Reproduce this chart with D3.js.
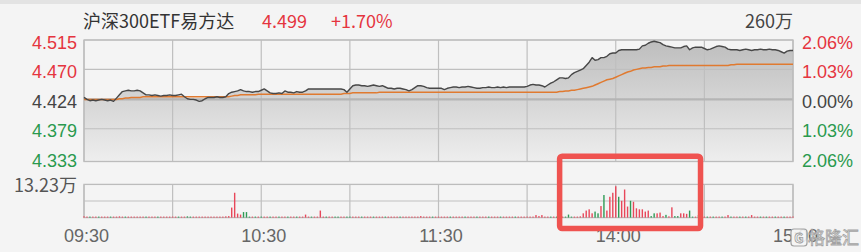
<!DOCTYPE html>
<html><head><meta charset="utf-8">
<script src="https://cdn.jsdelivr.net/npm/d3@7"></script>
<style>
html,body{margin:0;padding:0;background:#f4f4f4;}
svg{display:block;font-family:"Noto Sans CJK SC","Microsoft YaHei",sans-serif;}
</style></head>
<body>
<svg id="chart" width="861" height="252"></svg>
<script>
// ---------- data ----------
const title = "沪深300ETF易方达";
const lastPrice = "4.499";
const lastChange = "+1.70%";
const maxVolLabel = "260万";
const volTopLabel = "13.23万";
const prevClose = 4.424;
const priceTicks = [4.515, 4.470, 4.424, 4.379, 4.333];
const pctTicks = ["2.06%", "1.03%", "0.00%", "1.03%", "2.06%"];
const timeTickIdx = [0, 60, 120, 180, 240];
const timeTickLabels = ["09:30", "10:30", "11:30", "14:00", "15:00"];
const volMax = 13.23; // 万
const highlightIdx = [161, 208.7];

// minute prices, 09:30 .. 11:30, 13:01 .. 15:00
const price = [
4.427,4.424,4.422,4.423,4.422,4.423,4.424,4.423,4.422,4.423,
4.421,4.426,4.431,4.436,4.437,4.438,4.437,4.437,4.438,4.437,
4.434,4.431,4.431,4.430,4.431,4.430,4.429,4.430,4.430,4.431,
4.430,4.430,4.431,4.432,4.428,4.425,4.424,4.424,4.423,4.421,
4.422,4.425,4.427,4.427,4.427,4.428,4.427,4.427,4.428,4.433,
4.435,4.436,4.437,4.439,4.437,4.436,4.436,4.435,4.436,4.436,
4.438,4.440,4.437,4.434,4.433,4.433,4.434,4.433,4.437,4.435,
4.435,4.434,4.436,4.435,4.435,4.437,4.440,4.440,4.440,4.440,
4.440,4.440,4.440,4.440,4.440,4.440,4.440,4.440,4.439,4.435,
4.440,4.445,4.446,4.446,4.445,4.445,4.444,4.445,4.446,4.445,
4.444,4.445,4.443,4.441,4.441,4.440,4.441,4.441,4.440,4.439,
4.437,4.439,4.442,4.445,4.445,4.444,4.442,4.441,4.441,4.441,
4.441,
4.441,4.439,4.441,4.442,4.443,4.443,4.442,4.443,4.443,4.444,
4.443,4.442,4.441,4.441,4.442,4.442,4.443,4.442,4.442,4.443,
4.442,4.443,4.442,4.443,4.443,4.443,4.443,4.443,4.443,4.444,
4.446,4.447,4.446,4.446,4.445,4.443,4.446,4.449,4.451,4.454,
4.457,4.457,4.456,4.457,4.462,4.465,4.467,4.469,4.471,4.476,
4.481,4.488,4.484,4.485,4.488,4.488,4.490,4.494,4.495,4.495,
4.499,4.500,4.500,4.500,4.500,4.500,4.500,4.501,4.506,4.507,
4.510,4.512,4.513,4.512,4.511,4.508,4.506,4.505,4.504,4.503,
4.503,4.503,4.505,4.506,4.500,4.503,4.504,4.504,4.504,4.502,
4.500,4.501,4.503,4.505,4.506,4.505,4.504,4.501,4.500,4.500,
4.500,4.499,4.500,4.501,4.500,4.499,4.500,4.500,4.501,4.500,
4.500,4.501,4.500,4.500,4.499,4.497,4.495,4.498,4.499,4.499
];

// minute average price
const avg = [
4.424,4.424,4.424,4.424,4.424,4.424,4.424,4.424,4.424,4.424,
4.424,4.424,4.425,4.425,4.426,4.426,4.427,4.427,4.427,4.427,
4.428,4.428,4.428,4.428,4.428,4.428,4.428,4.428,4.428,4.428,
4.428,4.428,4.428,4.428,4.428,4.428,4.428,4.428,4.428,4.428,
4.428,4.428,4.428,4.428,4.428,4.428,4.428,4.428,4.428,4.428,
4.429,4.430,4.430,4.431,4.431,4.431,4.431,4.431,4.431,4.432,
4.432,4.432,4.432,4.432,4.432,4.432,4.432,4.432,4.432,4.432,
4.432,4.432,4.432,4.432,4.432,4.432,4.432,4.432,4.432,4.432,
4.432,4.432,4.432,4.432,4.432,4.432,4.432,4.432,4.433,4.433,
4.433,4.434,4.434,4.434,4.434,4.434,4.434,4.434,4.434,4.434,
4.435,4.435,4.435,4.435,4.435,4.435,4.435,4.435,4.435,4.435,
4.435,4.435,4.435,4.435,4.435,4.435,4.435,4.435,4.435,4.435,
4.435,
4.435,4.435,4.435,4.435,4.435,4.435,4.435,4.435,4.435,4.435,
4.435,4.435,4.435,4.435,4.435,4.435,4.435,4.435,4.435,4.435,
4.435,4.435,4.435,4.435,4.435,4.435,4.435,4.435,4.435,4.435,
4.435,4.435,4.435,4.435,4.435,4.435,4.435,4.435,4.435,4.435,
4.436,4.436,4.437,4.437,4.438,4.438,4.439,4.440,4.441,4.442,
4.443,4.444,4.446,4.448,4.450,4.452,4.454,4.455,4.456,4.458,
4.460,4.462,4.464,4.466,4.467,4.469,4.470,4.471,4.472,4.472,
4.473,4.473,4.474,4.474,4.474,4.475,4.475,4.476,4.476,4.476,
4.476,4.476,4.476,4.476,4.476,4.476,4.476,4.476,4.476,4.476,
4.476,4.476,4.476,4.476,4.476,4.476,4.476,4.476,4.477,4.477,
4.478,4.478,4.478,4.478,4.478,4.478,4.478,4.478,4.478,4.478,
4.478,4.478,4.478,4.478,4.478,4.478,4.478,4.478,4.478,4.478
];

// minute volume in 万 (sign: + up/red, - down/green)
const vol = [
0.5,0.4,-0.4,0.4,0.4,-0.4,0.4,0.4,0.4,-0.4,
0.4,0.4,0.5,0.4,-0.4,0.4,0.4,0.4,0.4,0.4,
0.4,-0.4,0.4,0.4,0.4,-0.4,0.4,0.4,0.4,0.4,
0.4,0.4,-0.4,0.4,0.4,-0.5,-0.4,0.4,0.4,0.4,
0.4,0.4,0.4,0.4,0.4,0.4,0.4,0.4,0.5,0.6,
4.0,9.9,1.6,1.2,-2.2,-2.2,-0.4,0.4,-0.4,0.4,
-0.4,0.4,0.4,-0.4,0.4,0.4,-0.4,0.4,0.4,-0.4,
0.4,0.4,-0.4,0.4,0.4,1.2,0.4,-0.4,0.4,0.4,
2.8,0.4,-0.4,0.4,0.4,-0.4,-0.4,0.4,0.4,-0.4,
-0.4,0.4,0.4,0.4,-0.4,0.4,0.4,0.4,-0.4,0.4,
0.4,0.4,-0.4,0.4,0.4,0.4,0.4,-0.4,0.4,0.4,
0.4,0.4,0.4,0.4,0.6,0.4,0.4,0.4,-0.4,0.4,
0.4,0.4,0.4,0.4,-0.4,0.4,0.4,0.4,0.4,-0.4,
0.4,0.4,0.4,-0.4,0.4,0.4,0.4,-0.4,0.4,0.4,
0.4,-0.4,0.4,0.4,0.4,0.4,-0.4,0.4,0.4,0.4,
0.4,0.4,0.4,1.0,0.6,1.0,0.4,0.4,-0.4,0.4,
-0.4,0.4,0.4,-0.4,-1.2,-0.4,0.4,0.4,0.5,1.7,
2.8,3.3,1.7,-2.4,-1.7,4.6,-9.0,2.8,8.3,9.9,
12.5,-8.3,6.7,11.2,4.4,-6.7,6.3,3.7,3.3,3.3,
2.4,2.8,-0.6,-1.7,1.7,2.0,0.6,-1.1,0.5,4.1,
-0.6,-0.6,1.7,1.7,1.5,-2.8,-0.4,0.4,-1.0,-0.4,
0.4,-0.4,0.4,-0.4,0.4,0.4,-0.4,0.4,1.0,-0.4,
0.4,0.4,-0.4,0.4,-0.4,0.4,1.0,0.4,0.4,-0.4,
0.4,-0.4,0.4,0.4,-0.4,0.4,0.4,-0.4,0.4,0.4,0.4
];

// ---------- layout ----------
const L = 84, R = 793;
const pTop = 40, pBot = 158.8, pFrameBot = 161.5;
const vTop = 184.4, vBot = 217.6;
const RED = "#e5353f", GREEN = "#2a9a4e", DARK = "#444";
const BAR_RED = "#e8475a", BAR_GREEN = "#2f9a55";

const svg = d3.select("#chart");
const x = d3.scaleLinear().domain([0, 240]).range([L, R]);
const y = d3.scaleLinear().domain([4.333, 4.515]).range([pBot, pTop]);
const yv = d3.scaleLinear().domain([0, volMax]).range([vBot, vTop]);

// background + top band
svg.append("rect").attr("width", 861).attr("height", 252).attr("fill", "#f4f4f4");
svg.append("rect").attr("width", 861).attr("height", 4).attr("fill", "#e3e3e3");

// gradient for area
const defs = svg.append("defs");
const grad = defs.append("linearGradient").attr("id", "ag")
  .attr("gradientUnits", "userSpaceOnUse").attr("x1", 0).attr("x2", 0)
  .attr("y1", pTop).attr("y2", pFrameBot);
grad.append("stop").attr("offset", 0).attr("stop-color", "#bdbdbd");
grad.append("stop").attr("offset", 1).attr("stop-color", "#eeeeee");

// area under price
svg.append("path").datum(price)
  .attr("fill", "url(#ag)")
  .attr("d", d3.area().x((d, i) => x(i)).y0(pFrameBot).y1(d => y(d)));

// grid - price panel
const gridColor = "#bfbfbf";
const vGrid = d3.range(0, 241, 30);
svg.append("g").selectAll("line").data(vGrid).join("line")
  .attr("x1", d => x(d)).attr("x2", d => x(d))
  .attr("y1", pTop).attr("y2", pFrameBot)
  .attr("stroke", gridColor).attr("stroke-width", 1.2);
svg.append("g").selectAll("line").data(priceTicks.filter(p => p !== 4.333)).join("line")
  .attr("x1", L).attr("x2", R)
  .attr("y1", d => y(d)).attr("y2", d => y(d))
  .attr("stroke", d => d === prevClose ? "#b5b5b5" : gridColor)
  .attr("stroke-width", d => d === prevClose ? 2.2 : 1.2);
svg.append("rect").attr("x", L).attr("y", pTop).attr("width", R - L).attr("height", pFrameBot - pTop)
  .attr("fill", "none").attr("stroke", "#bcbcbc").attr("stroke-width", 1.3);

// avg line
svg.append("path").datum(avg)
  .attr("fill", "none").attr("stroke", "#e07a30").attr("stroke-width", 1.5)
  .attr("d", d3.line().x((d, i) => x(i)).y(d => y(d)));
// price line
svg.append("path").datum(price)
  .attr("fill", "none").attr("stroke", "#474747").attr("stroke-width", 1.4)
  .attr("stroke-linejoin", "round")
  .attr("d", d3.line().x((d, i) => x(i)).y(d => y(d)));

// volume panel grid
svg.append("g").selectAll("line").data(vGrid).join("line")
  .attr("x1", d => x(d)).attr("x2", d => x(d))
  .attr("y1", vTop).attr("y2", vBot)
  .attr("stroke", gridColor).attr("stroke-width", 1.2);
svg.append("line").attr("x1", L).attr("x2", R)
  .attr("y1", yv(volMax / 2)).attr("y2", yv(volMax / 2))
  .attr("stroke", gridColor).attr("stroke-width", 1.2);
svg.append("rect").attr("x", L).attr("y", vTop).attr("width", R - L).attr("height", vBot - vTop)
  .attr("fill", "none").attr("stroke", "#bcbcbc").attr("stroke-width", 1.3);

// volume bars
svg.append("g").selectAll("rect").data(vol).join("rect")
  .attr("x", (d, i) => x(i) - 0.7).attr("width", 1.4)
  .attr("y", d => yv(Math.abs(d))).attr("height", d => vBot - yv(Math.abs(d)))
  .attr("fill", d => d >= 0 ? BAR_RED : BAR_GREEN);

// axes
const fs = 18;
const leftAxis = svg.append("g").attr("transform", `translate(${L},0)`)
  .call(d3.axisLeft(y).tickValues(priceTicks).tickSize(0).tickPadding(7)
    .tickFormat(d3.format(".3f")));
leftAxis.select(".domain").remove();
leftAxis.selectAll("text")
  .attr("font-size", fs).attr("font-family", null).attr("dy", "0.45em")
  .attr("fill", d => d > prevClose ? RED : d < prevClose ? GREEN : DARK);

const rightAxis = svg.append("g").attr("transform", `translate(${R},0)`)
  .call(d3.axisRight(y).tickValues(priceTicks).tickSize(0).tickPadding(9)
    .tickFormat((d, i) => pctTicks[i]));
rightAxis.select(".domain").remove();
rightAxis.selectAll("text")
  .attr("font-size", fs).attr("font-family", null).attr("dy", "0.45em")
  .attr("fill", d => d > prevClose ? RED : d < prevClose ? GREEN : DARK);

const timeAxis = svg.append("g").attr("transform", `translate(2,${vBot})`)
  .call(d3.axisBottom(x).tickValues(timeTickIdx).tickSize(0).tickPadding(12)
    .tickFormat((d, i) => timeTickLabels[i]));
timeAxis.select(".domain").remove();
timeAxis.selectAll("text").attr("font-size", fs).attr("font-family", null).attr("fill", "#666");

// volume top label
svg.append("text").attr("x", L - 7).attr("y", vTop + 8).attr("text-anchor", "end")
  .attr("font-size", fs).attr("fill", "#555").text(volTopLabel);

// header
svg.append("text").attr("x", L - 1).attr("y", 28).attr("font-size", fs).attr("fill", "#333").text(title);
svg.append("text").attr("x", 262).attr("y", 28).attr("font-size", fs).attr("fill", RED).text(lastPrice);
svg.append("text").attr("x", 331).attr("y", 28).attr("font-size", fs).attr("fill", RED).text(lastChange);
svg.append("text").attr("x", R).attr("y", 28).attr("text-anchor", "end").attr("font-size", fs).attr("fill", "#444").text(maxVolLabel);

// highlight box
const hx0 = x(highlightIdx[0]), hx1 = x(highlightIdx[1]);
svg.append("rect").attr("x", hx0).attr("y", 156.2).attr("width", hx1 - hx0).attr("height", 72.3)
  .attr("rx", 2.5).attr("fill", "none").attr("stroke", "#ef5350").attr("stroke-width", 5.5);

// watermark
const wm = svg.append("g").attr("opacity", 0.9);
wm.append("rect").attr("x", 791).attr("y", 229).attr("width", 16).attr("height", 17).attr("rx", 3)
  .attr("fill", "#f6f6f6").attr("stroke", "#999").attr("stroke-width", 1.2);
wm.append("text").attr("x", 799).attr("y", 243).attr("text-anchor", "middle").attr("font-size", 13)
  .attr("font-weight", "bold").attr("fill", "#f6f6f6").attr("stroke", "#999").attr("stroke-width", 0.8).text("G");
wm.append("text").attr("x", 808).attr("y", 244).attr("font-size", 17)
  .attr("fill", "#f8f8f8").attr("stroke", "#9a9a9a").attr("stroke-width", 0.8).text("格隆汇");
</script>
</body></html>
